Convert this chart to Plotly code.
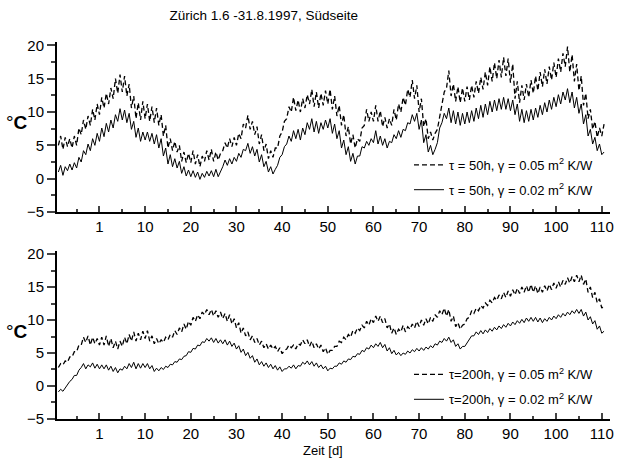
import plotly.graph_objects as go
from plotly.subplots import make_subplots

# days (-9 .. 110); each day has a trough (lo, at d) and a peak (hi, at d+0.5)
days = list(range(-9, 111))

# Top panel: tau = 50h, gamma = 0.05 (dashed)
top_dash_lo = [5.0,4.4,4.8,4.6,5.0,6.6,7.4,8.0,8.8,9.6,
               10.6,11.2,12.0,12.8,13.0,12.4,10.6,9.0,8.8,9.0,
               8.6,8.4,8.0,6.4,4.6,4.2,4.0,2.6,2.4,2.4,
               2.2,1.8,2.6,2.8,2.6,2.8,4.2,4.6,4.8,5.0,
               6.0,7.6,7.4,6.6,5.2,4.2,3.0,3.2,4.6,7.0,
               9.0,10.0,10.2,10.0,10.6,11.2,10.8,10.6,11.0,11.2,
               10.4,9.4,8.0,6.4,5.2,4.6,5.6,8.0,8.6,8.6,
               8.6,7.8,7.6,8.0,8.8,10.0,11.0,12.2,12.0,10.0,
               7.8,6.0,5.8,7.4,10.8,13.6,12.4,11.6,11.4,11.6,
               11.8,12.2,12.8,13.4,14.0,14.6,15.0,15.2,15.4,14.4,
               12.0,11.4,11.8,12.2,12.8,13.2,13.8,14.2,14.8,15.2,
               16.0,16.8,16.0,14.6,13.2,11.0,9.0,7.4,6.2,6.4]
top_dash_hi = [6.4,6.2,6.0,6.4,7.6,8.8,9.4,10.4,11.2,12.2,
               12.8,13.6,15.0,15.6,15.4,14.2,12.4,11.4,11.6,11.2,
               10.8,10.6,9.6,8.0,6.0,5.6,5.0,4.0,3.8,4.2,
               3.6,3.4,4.2,4.4,4.0,3.8,5.4,6.0,6.2,6.8,
               8.2,9.5,8.6,7.8,6.6,5.2,4.2,4.6,6.4,8.6,
               10.8,12.2,11.8,12.0,12.6,13.4,13.0,12.8,13.2,13.4,
               12.4,11.0,9.6,7.8,6.6,6.0,7.6,10.4,10.0,11.0,
               10.2,9.2,9.0,10.4,11.2,12.2,13.4,14.8,14.0,12.0,
               9.0,7.0,6.8,9.2,13.0,16.2,14.2,13.8,13.6,13.8,
               14.0,14.6,15.2,16.0,16.8,17.4,17.8,18.2,18.0,17.2,
               14.6,14.0,14.2,14.8,15.4,16.0,16.4,16.8,17.4,18.0,
               18.8,19.8,18.6,17.2,15.4,12.8,10.4,8.6,7.6,8.2]

# Top panel: tau = 50h, gamma = 0.02 (solid)
top_solid_lo = [1.0,0.5,1.2,1.3,1.6,2.5,3.6,4.2,5.0,5.6,
                6.3,7.0,7.6,8.6,8.8,8.4,7.4,6.2,5.6,5.8,
                5.6,5.2,4.6,3.4,2.2,1.8,1.6,0.8,0.4,0.3,
                0.2,-0.1,0.2,0.4,0.3,0.3,1.8,2.0,2.2,2.6,
                3.2,4.2,3.8,3.4,2.5,1.8,1.0,0.7,2.0,3.6,
                5.2,5.6,6.0,5.8,6.6,7.4,7.0,6.8,7.4,7.6,
                6.8,6.0,4.6,3.6,2.6,2.2,3.4,4.6,5.0,5.4,
                5.2,5.0,4.6,5.4,6.0,6.2,7.2,8.2,8.6,7.4,
                5.4,4.0,3.6,5.4,8.4,9.0,8.4,8.2,8.0,8.2,
                8.4,8.6,9.0,9.2,9.6,10.0,10.2,10.4,10.4,10.2,
                9.6,8.6,8.4,8.6,8.8,9.2,9.6,10.0,10.4,10.8,
                11.2,11.8,11.4,10.6,9.8,8.2,6.4,5.2,4.2,3.6]
top_solid_hi = [2.0,1.8,2.2,2.4,3.2,4.2,5.2,6.0,6.8,7.6,
                8.3,8.8,9.6,10.5,10.3,9.8,8.6,7.6,7.0,7.0,
                6.8,6.6,6.0,4.6,3.6,3.0,2.6,1.8,1.3,1.2,
                1.0,0.8,1.1,1.2,1.4,1.0,2.8,3.0,3.2,3.8,
                4.4,5.3,4.8,4.4,3.6,2.6,1.8,1.4,3.2,4.8,
                6.4,7.2,7.4,7.6,8.4,9.0,8.6,8.4,8.8,9.0,
                8.2,7.2,5.8,4.8,3.8,3.4,4.8,5.6,6.0,7.2,
                6.4,6.0,5.6,6.6,7.2,7.4,8.4,9.6,9.8,8.8,
                6.6,5.0,4.4,7.6,9.8,10.6,10.2,10.0,9.8,10.0,
                10.2,10.6,11.0,11.2,11.6,11.8,12.0,12.2,12.0,11.8,
                11.2,10.4,10.2,10.4,10.6,11.0,11.4,11.8,12.2,12.6,
                13.0,13.5,13.0,12.2,11.2,9.6,7.4,6.2,5.2,4.0]

# Bottom panel: tau = 200h, gamma = 0.05 (dashed)
bot_dash_lo = [2.8,3.2,3.6,4.4,5.2,6.2,6.6,6.2,6.4,6.2,
               6.2,6.0,5.8,5.6,6.0,6.4,6.8,6.8,7.0,7.2,
               6.8,6.4,6.4,6.6,7.0,7.4,7.8,8.2,8.6,9.2,
               9.8,10.2,10.8,10.8,10.6,10.4,10.2,9.8,9.4,8.8,
               8.0,7.6,7.0,6.6,6.2,5.8,5.6,5.6,5.2,4.9,
               5.6,5.8,5.6,6.2,6.4,6.0,5.8,5.6,5.2,4.8,
               5.4,6.0,6.6,7.0,7.4,8.0,8.4,8.8,9.2,9.6,
               9.8,9.6,8.8,8.0,7.8,8.2,8.2,8.6,8.8,9.0,
               9.2,9.4,9.8,10.4,10.8,10.6,9.8,9.0,8.6,9.4,
               10.4,11.0,11.4,11.8,12.2,12.6,13.0,13.2,13.4,13.6,
               13.8,14.0,14.2,14.2,14.2,14.0,14.2,14.4,14.6,14.8,
               15.0,15.4,15.6,15.8,15.8,15.4,14.2,13.4,12.6,11.8]
bot_dash_hi = [3.4,3.8,4.4,5.2,6.2,7.4,7.6,7.4,7.2,7.4,
               7.6,7.2,6.8,6.8,7.4,7.8,8.2,8.0,8.3,8.4,
               7.6,7.2,7.0,7.4,7.8,8.4,8.8,9.4,9.8,10.4,
               10.8,11.2,11.6,11.6,11.4,11.2,11.0,10.8,10.2,9.6,
               8.8,8.2,7.6,7.2,6.8,6.4,6.2,6.0,5.8,5.4,
               6.2,6.2,6.4,7.0,7.0,6.8,6.4,6.2,5.8,5.4,
               6.0,6.8,7.4,7.8,8.4,8.8,9.2,9.8,10.2,10.6,
               10.6,10.2,9.4,8.8,8.6,9.2,9.0,9.4,9.8,10.0,
               10.2,10.4,10.8,11.4,11.8,11.6,10.6,9.6,9.2,10.2,
               11.4,11.8,12.2,12.6,13.0,13.4,13.8,14.2,14.4,14.6,
               14.8,15.0,15.2,15.4,15.2,15.0,15.2,15.4,15.6,15.8,
               16.0,16.4,16.6,16.8,16.8,16.2,15.0,14.2,13.2,12.2]

# Bottom panel: tau = 200h, gamma = 0.02 (solid)
bot_solid_lo = [-0.9,-0.8,0.2,1.0,1.6,2.8,2.6,2.9,2.7,2.6,
                2.6,2.4,2.2,2.0,2.4,2.6,2.8,2.6,2.7,2.8,
                2.6,2.2,2.3,2.5,2.8,3.2,3.6,4.0,4.6,5.1,
                5.6,6.1,6.6,6.8,6.6,6.5,6.4,6.2,6.0,5.6,
                5.1,4.6,4.2,3.6,3.2,3.0,2.8,2.6,2.4,2.2,
                2.6,2.7,2.6,3.0,3.3,3.2,3.0,2.8,2.6,2.3,
                2.6,3.0,3.3,3.6,4.0,4.4,4.8,5.2,5.6,5.8,
                6.0,5.8,5.3,4.9,4.7,4.6,4.8,5.0,5.2,5.3,
                5.4,5.6,5.8,6.2,6.6,6.8,6.6,6.0,5.6,6.0,
                7.0,7.6,7.8,7.9,8.1,8.3,8.5,8.7,8.9,9.1,
                9.3,9.5,9.6,9.8,9.8,9.7,9.6,9.8,10.0,10.2,
                10.4,10.6,10.8,11.0,11.0,10.6,10.0,9.4,8.6,8.0]
bot_solid_hi = [-0.5,-0.3,0.7,1.6,2.4,3.4,3.2,3.5,3.3,3.2,
                3.2,3.0,2.8,2.6,3.0,3.4,3.6,3.4,3.4,3.4,
                3.1,2.7,2.8,3.0,3.3,3.7,4.1,4.5,5.2,5.7,
                6.2,6.7,7.2,7.3,7.2,7.0,7.0,6.8,6.5,6.1,
                5.6,5.1,4.6,4.1,3.7,3.5,3.3,3.1,2.9,2.6,
                3.0,3.2,3.1,3.6,3.8,3.7,3.5,3.2,3.0,2.7,
                3.0,3.5,3.8,4.1,4.5,4.9,5.4,5.8,6.2,6.4,
                6.6,6.3,5.8,5.4,5.1,5.0,5.3,5.5,5.7,5.8,
                5.9,6.1,6.4,6.8,7.2,7.4,7.0,6.4,6.0,6.6,
                7.6,8.2,8.4,8.5,8.7,8.9,9.1,9.3,9.5,9.7,
                9.9,10.1,10.3,10.4,10.4,10.3,10.2,10.4,10.6,10.8,
                11.0,11.2,11.4,11.6,11.6,11.2,10.5,9.9,9.1,8.3]

x_ticks = [0, 10, 20, 30, 40, 50, 60, 70, 80, 90, 100, 110]
x_tick_labels = ["1", "10", "20", "30", "40", "50", "60", "70", "80", "90", "100", "110"]


def zig(lo, hi):
    xs, ys = [], []
    for d, a, b in zip(days, lo, hi):
        xs += [d, d + 0.5]
        ys += [a, b]
    return xs, ys


FONT = "Liberation Sans, Arial, sans-serif"
fig = make_subplots(rows=2, cols=1, vertical_spacing=0.1)

series = [
    (top_dash_lo, top_dash_hi, 1, "dash", 1.3,
     "τ = 50h, γ = 0.05 m<sup>2</sup> K/W", "legend"),
    (top_solid_lo, top_solid_hi, 1, "solid", 1.0,
     "τ = 50h, γ = 0.02 m<sup>2</sup> K/W", "legend"),
    (bot_dash_lo, bot_dash_hi, 2, "dash", 1.3,
     "τ=200h, γ = 0.05 m<sup>2</sup> K/W", "legend2"),
    (bot_solid_lo, bot_solid_hi, 2, "solid", 1.0,
     "τ=200h, γ = 0.02 m<sup>2</sup> K/W", "legend2"),
]
for i, (lo, hi, row, dash, w, name, leg) in enumerate(series):
    xs, ys = zig(lo, hi)
    fig.add_trace(go.Scatter(x=xs, y=ys, mode="lines", name=name,
                             line=dict(color="black", width=w,
                                       dash="5px,3px" if dash == "dash" else "solid"),
                             legend=leg, legendgroup=str(i)),
                  row=row, col=1)

for r in (1, 2):
    fig.update_xaxes(range=[-9.3, 111.8], tickmode="array", tickvals=x_ticks,
                     ticktext=x_tick_labels, ticks="inside", ticklen=6, tickwidth=1.5,
                     showline=True, linewidth=2, linecolor="black", showgrid=False,
                     zeroline=False, tickfont=dict(size=15, color="black", family=FONT),
                     minor=dict(tickmode="linear", tick0=-5, dtick=10, ticks="inside",
                                ticklen=3, tickwidth=1.5, showgrid=False),
                     row=r, col=1)
    fig.update_yaxes(range=[-5, 20.5], tickmode="linear", tick0=-5, dtick=5,
                     ticks="outside", ticklen=8, tickwidth=1.5,
                     showline=True, linewidth=2, linecolor="black", showgrid=False,
                     zeroline=False, tickfont=dict(size=15, color="black", family=FONT),
                     minor=dict(tickmode="linear", tick0=-5, dtick=2.5, ticks="outside",
                                ticklen=4, tickwidth=1.5, showgrid=False),
                     row=r, col=1)

fig.update_layout(
    width=625, height=464,
    margin=dict(l=57, r=15, t=42, b=45),
    paper_bgcolor="white", plot_bgcolor="white",
    font=dict(family=FONT, color="black"),
    xaxis=dict(domain=[0, 1]), yaxis=dict(domain=[0.549, 1.0]),
    xaxis2=dict(domain=[0, 1]), yaxis2=dict(domain=[0.0, 0.4464]),
    title=dict(text="Zürich 1.6 -31.8.1997, Südseite", x=0.422, xanchor="center",
               y=0.968, yanchor="middle", xref="container", yref="container",
               font=dict(size=13.5, family=FONT, color="black")),
    legend=dict(x=0.6365, y=0.641, xanchor="left", yanchor="middle", bgcolor="rgba(0,0,0,0)",
                font=dict(size=13, family=FONT), tracegroupgap=5, itemwidth=30),
    legend2=dict(x=0.6365, y=0.085, xanchor="left", yanchor="middle", bgcolor="rgba(0,0,0,0)",
                 font=dict(size=13, family=FONT), tracegroupgap=5, itemwidth=30),
    annotations=[
        dict(text="°<b>C</b>", x=-0.073, y=8.4, xref="paper", yref="y", showarrow=False,
             font=dict(size=19, family=FONT), xanchor="center", yanchor="middle"),
        dict(text="°<b>C</b>", x=-0.073, y=8.2, xref="paper", yref="y2", showarrow=False,
             font=dict(size=19, family=FONT), xanchor="center", yanchor="middle"),
        dict(text="Zeit [d]", x=0.481, y=-0.084, xref="paper", yref="paper", showarrow=False,
             font=dict(size=13, family=FONT), xanchor="center", yanchor="middle"),
    ],
)

fig.write_html("out.html", config={"displayModeBar": False})
with open("out.html", "r", encoding="utf-8") as f:
    html = f.read()
html = html.replace("<head>", "<head><style>html,body{margin:0;padding:0;}</style>", 1)
with open("out.html", "w", encoding="utf-8") as f:
    f.write(html)
